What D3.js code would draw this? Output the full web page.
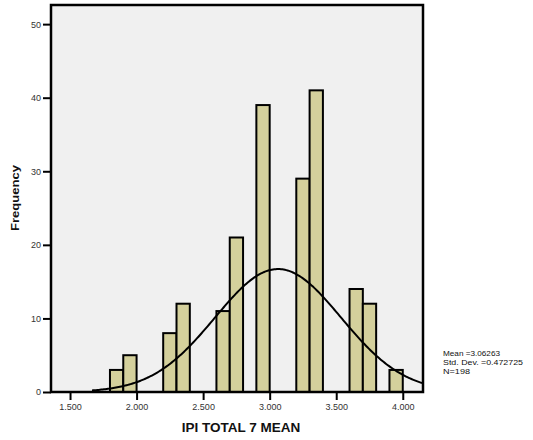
<!DOCTYPE html>
<html>
<head>
<meta charset="utf-8">
<script src="https://cdn.jsdelivr.net/npm/d3@7"></script>
<style>
  html, body { margin: 0; padding: 0; background: #ffffff; }
  svg { display: block; }
  text { font-family: "Liberation Sans", Arial, sans-serif; }
</style>
</head>
<body>
<svg id="chart" width="533" height="440"></svg>
<script>
// ---- data ----
const binStarts = [1.8, 1.9, 2.2, 2.3, 2.6, 2.7, 2.9, 3.2, 3.3, 3.6, 3.7, 3.9];
const counts    = [3,   5,   8,   12,  11,  21,  39,  29,  41,  14,  12,  3];
const binWidth = 0.1;
const xTickValues = [1.5, 2.0, 2.5, 3.0, 3.5, 4.0];
const yTickValues = [0, 10, 20, 30, 40, 50];
const statMean = 3.06263;
const statSD = 0.472725;
const statN = 198;
const legendLines = ["Mean =3.06263", "Std. Dev. =0.472725", "N=198"];
const xTitle = "IPI TOTAL 7 MEAN";
const yTitle = "Frequency";

const svg = d3.select("#chart");
const L = 51, R = 423, T = 5, B = 392;

const x = d3.scaleLinear().domain([1.357, 4.152]).range([L, R]);
const y = d3.scaleLinear().domain([0, 52.6]).range([B, T]);

// plot background
svg.append("rect")
  .attr("x", L).attr("y", T).attr("width", R - L).attr("height", B - T)
  .attr("fill", "#f0f0f0");

// bars
svg.append("g").selectAll("rect")
  .data(binStarts.map((s, i) => ({ s, c: counts[i] })))
  .join("rect")
  .attr("x", d => x(d.s))
  .attr("y", d => y(d.c))
  .attr("width", d => x(d.s + binWidth) - x(d.s))
  .attr("height", d => y(0) - y(d.c))
  .attr("fill", "#d4d09c")
  .attr("stroke", "#000")
  .attr("stroke-width", 2);

// normal curve from the stated mean, sd and N
const curvePts = d3.range(1.665, 4.152, 0.01).map(v => [
  v,
  statN * binWidth * Math.exp(-0.5 * Math.pow((v - statMean) / statSD, 2)) / (statSD * Math.sqrt(2 * Math.PI))
]);
svg.append("path")
  .datum(curvePts)
  .attr("fill", "none")
  .attr("stroke", "#000")
  .attr("stroke-width", 2)
  .attr("d", d3.line().x(d => x(d[0])).y(d => y(d[1])));

// frame
svg.append("rect")
  .attr("x", L).attr("y", T).attr("width", R - L).attr("height", B - T)
  .attr("fill", "none")
  .attr("stroke", "#000")
  .attr("stroke-width", 2.5);

// axes
const yAxis = d3.axisLeft(y).tickValues(yTickValues).tickFormat(d3.format("d")).tickSize(8).tickPadding(2);
const gy = svg.append("g").attr("transform", `translate(${L},0)`).call(yAxis);
gy.select(".domain").remove();
gy.selectAll(".tick line").attr("stroke", "#000").attr("stroke-width", 2);
gy.selectAll(".tick text").attr("font-size", 9).attr("fill", "#333")
  .attr("font-family", "Liberation Sans, Arial, sans-serif");

const xAxis = d3.axisBottom(x).tickValues(xTickValues).tickFormat(d3.format(".3f")).tickSize(8).tickPadding(4);
const gx = svg.append("g").attr("transform", `translate(0,${B})`).call(xAxis);
gx.select(".domain").remove();
gx.selectAll(".tick line").attr("stroke", "#000").attr("stroke-width", 2);
gx.selectAll(".tick text").attr("font-size", 9).attr("fill", "#333")
  .attr("font-family", "Liberation Sans, Arial, sans-serif");

// axis titles
svg.append("text")
  .attr("x", 241).attr("y", 432)
  .attr("text-anchor", "middle")
  .attr("font-size", 13.5).attr("font-weight", "bold").attr("fill", "#111")
  .text(xTitle);

svg.append("text")
  .attr("transform", "translate(19,198) rotate(-90)")
  .attr("text-anchor", "middle")
  .attr("font-size", 10).attr("font-weight", "bold").attr("fill", "#111")
  .attr("textLength", 66).attr("lengthAdjust", "spacingAndGlyphs")
  .text(yTitle);

// stats legend
svg.append("g").selectAll("text")
  .data(legendLines)
  .join("text")
  .attr("x", 443)
  .attr("y", (d, i) => 356 + i * 9)
  .attr("font-size", 8).attr("fill", "#111")
  .attr("textLength", (d, i) => [57, 80, 27][i]).attr("lengthAdjust", "spacingAndGlyphs")
  .text(d => d);
</script>
</body>
</html>
